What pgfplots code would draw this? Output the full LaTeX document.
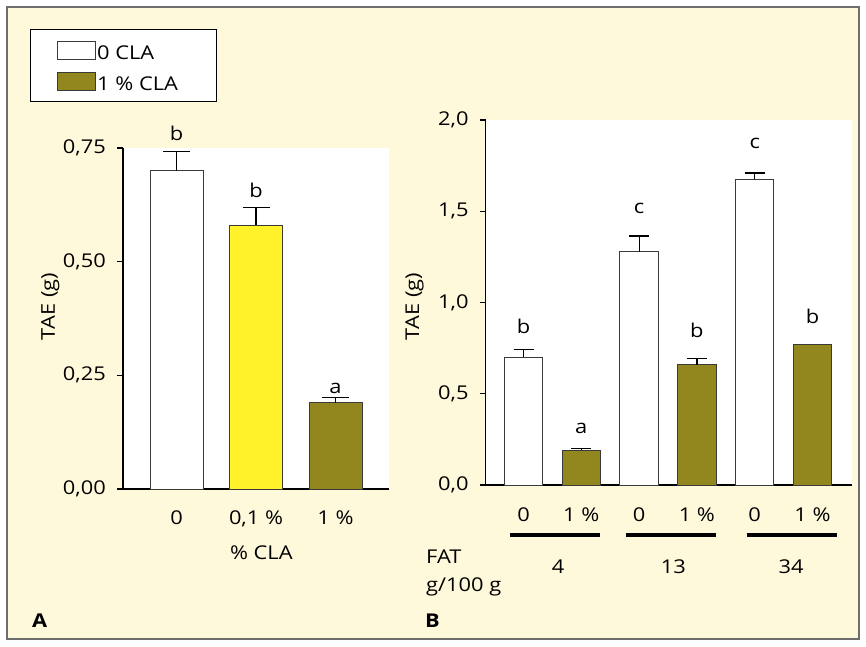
\documentclass[border=0pt]{standalone}
\usepackage{pgfplots}
\pgfplotsset{compat=1.18}
\usepackage{fontspec}
\setmainfont{Open Sans}[FakeStretch=1.15]
\definecolor{bgc}{HTML}{FFF9DC}
\definecolor{olivebar}{HTML}{91871E}
\definecolor{yel}{HTML}{FFF22A}
\definecolor{edge}{HTML}{3A3A3A}
\definecolor{framec}{HTML}{6E6E6E}
\newcommand\ff{\fontsize{19pt}{22pt}\selectfont}

\pgfplotsset{
  panel/.style={
    scale only axis,
    axis lines*=left,
    axis line style={black, line width=1.2pt},
    axis background/.style={fill=white},
    tick align=outside,
    major tick length=6pt,
    ytick style={black, line width=1.2pt},
    xtick style={draw=none},
    tick label style={font=\ff},
    label style={font=\ff},
    clip=false,
  },
  barA/.style={ybar, bar width=53pt, draw=edge, line width=1pt,
    error bars/.cd, y dir=plus, y explicit,
    error bar style={black, line width=1.2pt},
    error mark options={black, rotate=90, mark size=13.5pt, line width=1.2pt}},
  barB/.style={ybar, bar width=38.4pt, draw=edge, line width=1pt,
    error bars/.cd, y dir=plus, y explicit,
    error bar style={black, line width=1.2pt},
    error mark options={black, rotate=90, mark size=10pt, line width=1.2pt}},
  barBnoerr/.style={ybar, bar width=38.4pt, draw=edge, line width=1pt},
}

\begin{document}
\ff
\begin{tikzpicture}[font=\ff]
\fill[white] (0pt,0pt) rectangle (866pt,646pt);
\path[use as bounding box] (0pt,0pt) rectangle (866pt,646pt);
\draw[framec, line width=1.5pt, fill=bgc] (7pt,7pt) rectangle (859pt,639pt);
\draw[black, line width=1pt, fill=white] (30pt,544pt) rectangle (216pt,616pt);

% ---------------- Panel A ----------------
\begin{axis}[panel,
  at={(123pt,157pt)}, anchor=south west,
  width=266pt, height=341pt,
  xmin=-0.673, xmax=2.673, ymin=0, ymax=0.75,
  ytick={0,0.25,0.5,0.75},
  yticklabel style={anchor=east, inner sep=0pt, xshift=-11pt, /pgf/number format/.cd, fixed, fixed zerofill, precision=2, use comma, assume math mode=true},
  xtick={0,1,2}, xticklabels={0,{0,1 \%},{1 \%}},
  xticklabel style={anchor=base, inner sep=0pt, yshift=-29.8pt},
  xlabel={\% CLA},
  xlabel style={at={(axis description cs:0.52,-0.1877)}, anchor=center},
  ylabel={TAE (g)},
  ylabel style={at={(axis description cs:-0.273,0.535)}, anchor=center},
  legend style={at={(axis description cs:-0.2481,1.3138)}, anchor=north west,
    draw=none, fill=none, inner sep=0pt, row sep=10.2pt, column sep=1pt,
    nodes={inner sep=0pt, font=\ff}},
  legend cell align=left,
  legend image code/.code={\draw[#1, line width=1pt] (0pt,-6pt) rectangle (38pt,12pt);},
]
\addlegendimage{fill=white, draw=edge}
\addlegendimage{fill=olivebar, draw=edge}
\legend{0 CLA, 1 \% CLA}
\addplot[fill=white, barA] coordinates {(0,0.70) +- (0,0.043)};
\addplot[fill=yel, barA] coordinates {(1,0.58) +- (0,0.039)};
\addplot[fill=olivebar, barA] coordinates {(2,0.19) +- (0,0.011)};
\node at (axis cs:0,0.782) {b};
\node at (axis cs:1,0.656) {b};
\node at (axis cs:2,0.222) {a};
\end{axis}

% ---------------- Panel B ----------------
\begin{axis}[panel,
  at={(485.7pt,161pt)}, anchor=south west,
  width=366pt, height=365pt,
  xmin=-0.654, xmax=5.678, ymin=0, ymax=2,
  ytick={0,0.5,1,1.5,2},
  yticklabel style={anchor=east, inner sep=0pt, xshift=-11pt, /pgf/number format/.cd, fixed, fixed zerofill, precision=1, use comma, assume math mode=true},
  xtick={0,1,2,3,4,5}, xticklabels={0,{1 \%},0,{1 \%},0,{1 \%}},
  xticklabel style={anchor=base, inner sep=0pt, yshift=-30.8pt},
  ylabel={TAE (g)},
  ylabel style={at={(axis description cs:-0.194,0.489)}, anchor=center},
]
\addplot[fill=white, barB] coordinates {(0,0.70) +- (0,0.043) (2,1.278) +- (0,0.086) (4,1.676) +- (0,0.034)};
\addplot[fill=olivebar, barB] coordinates {(1,0.19) +- (0,0.008) (3,0.66) +- (0,0.033)};
\addplot[fill=olivebar, barBnoerr] coordinates {(5,0.77)};
\node at (axis cs:0,0.867) {b};
\node at (axis cs:1,0.31) {a};
\node at (axis cs:2,1.515) {c};
\node at (axis cs:3,0.849) {b};
\node at (axis cs:4,1.871) {c};
\node at (axis cs:5,0.925) {b};
\end{axis}

% group decorations for panel B
\draw[black, line width=3.5pt] (510pt,111pt) -- (600pt,111pt);
\draw[black, line width=3.5pt] (626pt,111pt) -- (716pt,111pt);
\draw[black, line width=3.5pt] (746.7pt,111pt) -- (836.7pt,111pt);
\node[anchor=base, inner sep=0pt] at (558pt,73pt) {4};
\node[anchor=base, inner sep=0pt] at (673.3pt,73pt) {13};
\node[anchor=base, inner sep=0pt] at (791pt,73pt) {34};
\node[anchor=base west, inner sep=0pt] at (426pt,82.7pt) {FAT};
\node[anchor=base west, inner sep=0pt] at (426pt,54.3pt) {g/100 g};
\node[anchor=base west, inner sep=0pt, font=\ff\bfseries] at (32pt,19pt) {A};
\node[anchor=base west, inner sep=0pt, font=\ff\bfseries] at (425pt,19pt) {B};
\end{tikzpicture}
\end{document}
